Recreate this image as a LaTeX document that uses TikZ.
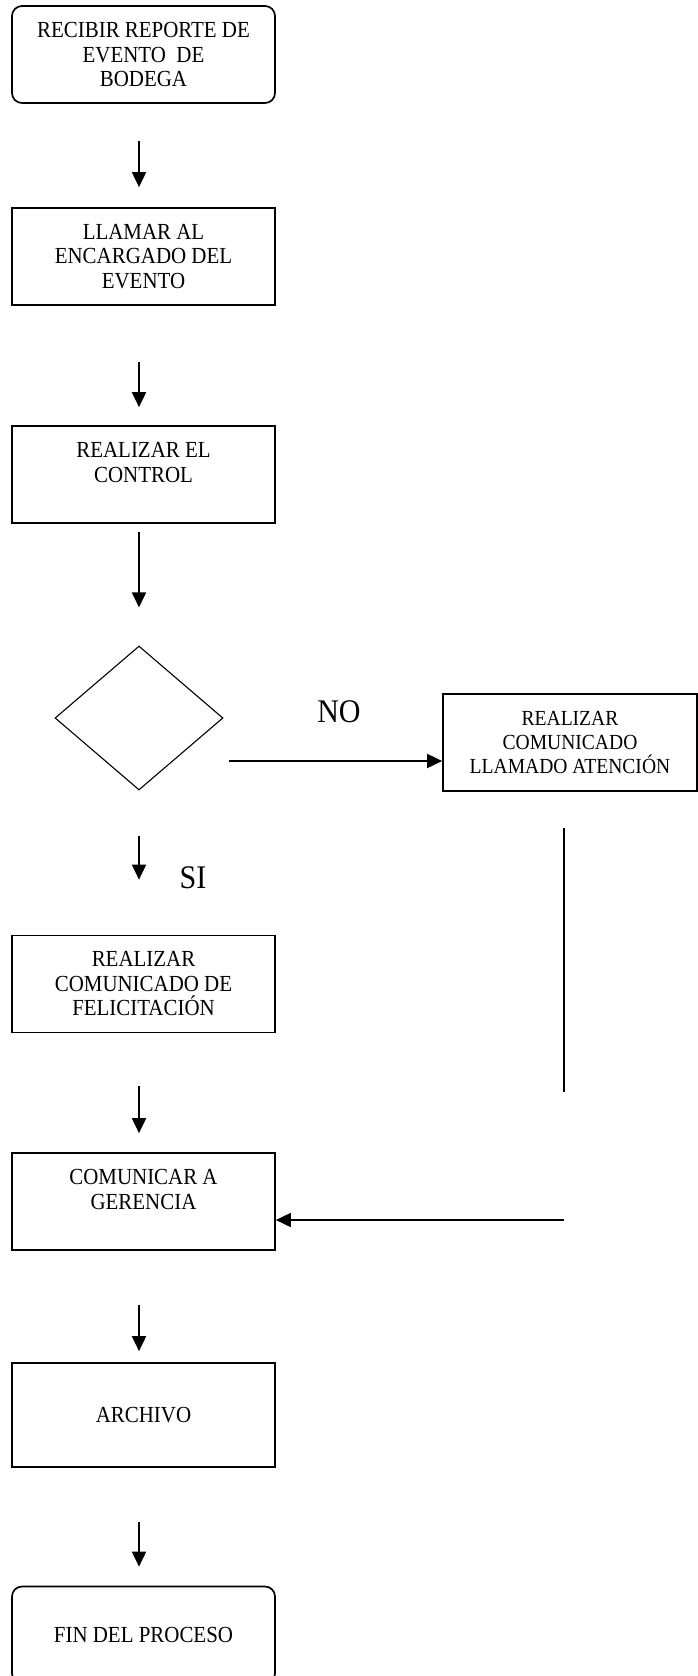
\documentclass[tikz,border=0pt]{standalone}
\usepackage{fontspec}
\setmainfont[FakeStretch=0.91]{Liberation Serif}
\usetikzlibrary{shapes.geometric,arrows.meta}
\begin{document}
\begin{tikzpicture}[x=1pt,y=1pt,
  box/.style={draw=black, line width=1.7pt, minimum width=263pt, minimum height=97pt,
              inner sep=0pt, align=center, font=\fontsize{23}{24.5}\selectfont},
  term/.style={box, rounded corners=10pt},
  sidebox/.style={box, minimum width=254pt, font=\fontsize{21.5}{24}\selectfont},
  decision/.style={draw=black, diamond, line width=1.1pt, minimum width=168pt,
                   minimum height=144pt, inner sep=0pt},
  arr/.style={line width=1.8pt, -{Triangle[length=15pt,width=14pt]}},
  link/.style={line width=1.3pt},
  answer/.style={font=\fontsize{33}{36}\selectfont, inner sep=0pt}]
\clip (0,0) rectangle (698,-1676);
\fill[white] (0,0) rectangle (698,-1676);

% process steps
\node[term] (b1) at (143.5,-54.5) {RECIBIR REPORTE DE\\EVENTO\ \ DE\\BODEGA};
\node[box]  (b2) at (143.5,-256.5) {LLAMAR AL\\ENCARGADO DEL\\EVENTO};
\node[box]  (b3) at (143.5,-474.5) {REALIZAR EL\\CONTROL\\\mbox{}};
\node[decision] (dec) at (139,-718) {};
\node[sidebox] (rb) at (570,-742.5) {REALIZAR\\COMUNICADO\\LLAMADO ATENCIÓN};
\node[box]  (b4) at (143.5,-984) {REALIZAR\\COMUNICADO DE\\FELICITACIÓN};
\node[box]  (b5) at (143.5,-1201.5) {COMUNICAR A\\GERENCIA\\\mbox{}};
\node[box, minimum height=104pt] (b6) at (143.5,-1415) {\raisebox{-7pt}{ARCHIVO}};
\node[term] (b7) at (143.5,-1635) {FIN DEL PROCESO};

% branch labels
\node[answer] (no) at (339,-712) {NO};
\node[answer] (si) at (193,-878) {SI};

% main flow
\draw[arr, shorten <=37pt, shorten >=20pt] ([xshift=-4.5pt]b1.south) -- ([xshift=-4.5pt]b2.north);
\draw[arr, shorten <=56pt, shorten >=18pt] ([xshift=-4.5pt]b2.south) -- ([xshift=-4.5pt]b3.north);
\draw[arr, shorten <=8pt, shorten >=38pt] ([xshift=-4.5pt]b3.south) -- (dec.north);
\draw[arr, shorten <=45pt, shorten >=55pt] (dec.south) -- ([xshift=-4.5pt]b4.north);
\draw[arr, shorten <=53pt, shorten >=19pt] ([xshift=-4.5pt]b4.south) -- ([xshift=-4.5pt]b5.north);
\draw[arr, shorten <=54pt, shorten >=11pt] ([xshift=-4.5pt]b5.south) -- ([xshift=-4.5pt]b6.north);
\draw[arr, shorten <=54pt, shorten >=19pt] ([xshift=-4.5pt]b6.south) -- ([xshift=-4.5pt]b7.north);

% NO branch
\draw[arr, shorten <=5pt] ([yshift=-43pt]dec.east) -- ([yshift=-18.5pt]rb.west);
\coordinate (turn) at (564,-1220);
\draw[link, shorten <=36pt, shorten >=128pt] ([xshift=-6pt]rb.south) -- (turn);
\draw[arr] (turn) -- (turn -| b5.east);
\end{tikzpicture}
\end{document}
